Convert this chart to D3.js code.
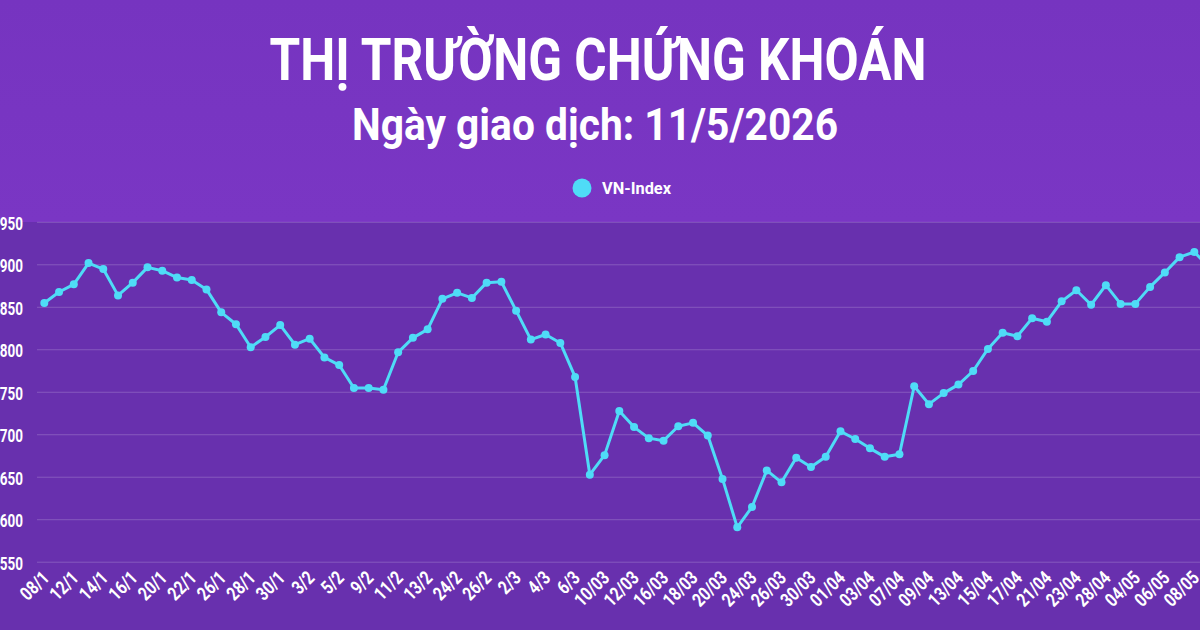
<!DOCTYPE html>
<html>
<head>
<meta charset="utf-8">
<script src="https://cdn.jsdelivr.net/npm/d3@7/dist/d3.min.js"></script>
<style>
  html, body { margin: 0; padding: 0; width: 1200px; height: 630px; overflow: hidden; background: #6830ae; }
  svg { display: block; }
  text { font-family: Roboto, "Noto Sans", sans-serif; font-weight: 700; fill: #ffffff; }
</style>
</head>
<body>
<svg id="chart" width="1200" height="630"></svg>
<script>
const titleText = "THỊ TRƯỜNG CHỨNG KHOÁN";
const subtitleText = "Ngày giao dịch: 11/5/2026";
const seriesName = "VN-Index";

const dates = [
  "08/1","09/1","12/1","13/1","14/1","15/1","16/1","19/1","20/1","21/1",
  "22/1","23/1","26/1","27/1","28/1","29/1","30/1","2/2","3/2","4/2",
  "5/2","6/2","9/2","10/2","11/2","12/2","13/2","23/2","24/2","25/2",
  "26/2","27/2","2/3","3/3","4/3","5/3","6/3","09/03","10/03","11/03",
  "12/03","13/03","16/03","17/03","18/03","19/03","20/03","23/03","24/03","25/03",
  "26/03","27/03","30/03","31/03","01/04","02/04","03/04","06/04","07/04","08/04",
  "09/04","10/04","13/04","14/04","15/04","16/04","17/04","20/04","21/04","22/04",
  "23/04","24/04","28/04","29/04","04/05","05/05","06/05","07/05","08/05","11/05"
];

const vnIndex = [
  1855, 1868, 1877, 1902, 1895, 1864, 1879, 1897, 1893, 1885,
  1882, 1871, 1844, 1830, 1803, 1815, 1829, 1806, 1813, 1791,
  1782, 1755, 1755, 1753, 1797, 1814, 1824, 1860, 1867, 1861,
  1879, 1880, 1846, 1812, 1818, 1808, 1768, 1653, 1676, 1728,
  1709, 1696, 1693, 1710, 1714, 1699, 1648, 1591, 1615, 1658,
  1644, 1673, 1662, 1674, 1704, 1695, 1684, 1674, 1677, 1757,
  1736, 1749, 1759, 1775, 1801, 1820, 1816, 1837, 1833, 1857,
  1870, 1853, 1876, 1854, 1854, 1874, 1891, 1909, 1915, 1897
];

const yTicks = [1550, 1600, 1650, 1700, 1750, 1800, 1850, 1900, 1950];

const svg = d3.select("#chart");

// Background: lighter header, darker chart area
svg.append("rect").attr("x", 0).attr("y", 0).attr("width", 1200).attr("height", 630).attr("fill", "#6830ae");
const defs = svg.append("defs");
const grad = defs.append("linearGradient").attr("id", "hdr").attr("x1", 0).attr("y1", 0).attr("x2", 0).attr("y2", 1);
grad.append("stop").attr("offset", "0%").attr("stop-color", "#7634c0");
grad.append("stop").attr("offset", "100%").attr("stop-color", "#7a36c4");
svg.append("rect").attr("x", 0).attr("y", 0).attr("width", 1200).attr("height", 222).attr("fill", "url(#hdr)");

// Title
svg.append("text").attr("x", 598).attr("y", 80).attr("text-anchor", "middle")
  .attr("font-size", 60).attr("textLength", 657).attr("lengthAdjust", "spacingAndGlyphs")
  .text(titleText);
svg.append("text").attr("x", 595).attr("y", 140).attr("text-anchor", "middle")
  .attr("font-size", 44).attr("textLength", 486).attr("lengthAdjust", "spacingAndGlyphs")
  .text(subtitleText);

// Scales
const x = d3.scalePoint().domain(dates).range([44.3, 44.3 + 79 * 14.744]);
const y = d3.scaleLinear().domain([1550, 1950]).range([562.2, 222.3]);
const lineColor = "#4fdcf7";

// Legend
svg.append("circle").attr("cx", 582).attr("cy", 188).attr("r", 9.5).attr("fill", lineColor);
svg.append("text").attr("x", 602).attr("y", 194).attr("font-size", 17)
  .attr("textLength", 69).attr("lengthAdjust", "spacingAndGlyphs").text(seriesName);

// Grid
const grid = svg.append("g");
grid.selectAll("line").data(yTicks).join("line")
  .attr("x1", 37).attr("x2", 1200)
  .attr("y1", d => y(d)).attr("y2", d => y(d))
  .attr("stroke", "rgba(255,255,255,0.2)").attr("stroke-width", 1);

// Y axis labels
const yAxis = d3.axisLeft(y).tickValues(yTicks).tickSize(0).tickPadding(0).tickFormat(d3.format("d"));
const yg = svg.append("g").attr("transform", "translate(23,0)").call(yAxis);
yg.select(".domain").remove();
yg.selectAll("text").attr("font-size", 19).attr("fill", "#fff")
  .attr("font-family", "Roboto, sans-serif").attr("font-weight", 700)
  .attr("textLength", 31).attr("lengthAdjust", "spacingAndGlyphs").attr("dy", "0.36em");

// X axis labels (every other category)
const xAxis = d3.axisBottom(x).tickValues(dates.filter((d, i) => i % 2 === 0)).tickSize(0).tickPadding(0);
const xg = svg.append("g").call(xAxis);
xg.select(".domain").remove();
xg.selectAll(".tick").attr("transform", d => `translate(${x(d) + 6},579)`);
xg.selectAll("text")
  .attr("font-size", 19).attr("fill", "#fff")
  .attr("font-family", "Roboto, sans-serif").attr("font-weight", 700)
  .attr("text-anchor", "end").attr("y", 0).attr("dy", 0)
  .attr("transform", "rotate(-45) scale(0.8,1)");

// Line
const line = d3.line().x((d, i) => x(dates[i])).y(d => y(d));
svg.append("path").datum(vnIndex).attr("d", line)
  .attr("fill", "none").attr("stroke", lineColor).attr("stroke-width", 3)
  .attr("stroke-linejoin", "round");

svg.append("g").selectAll("circle").data(vnIndex).join("circle")
  .attr("cx", (d, i) => x(dates[i])).attr("cy", d => y(d)).attr("r", 4)
  .attr("fill", lineColor);
</script>
</body>
</html>
